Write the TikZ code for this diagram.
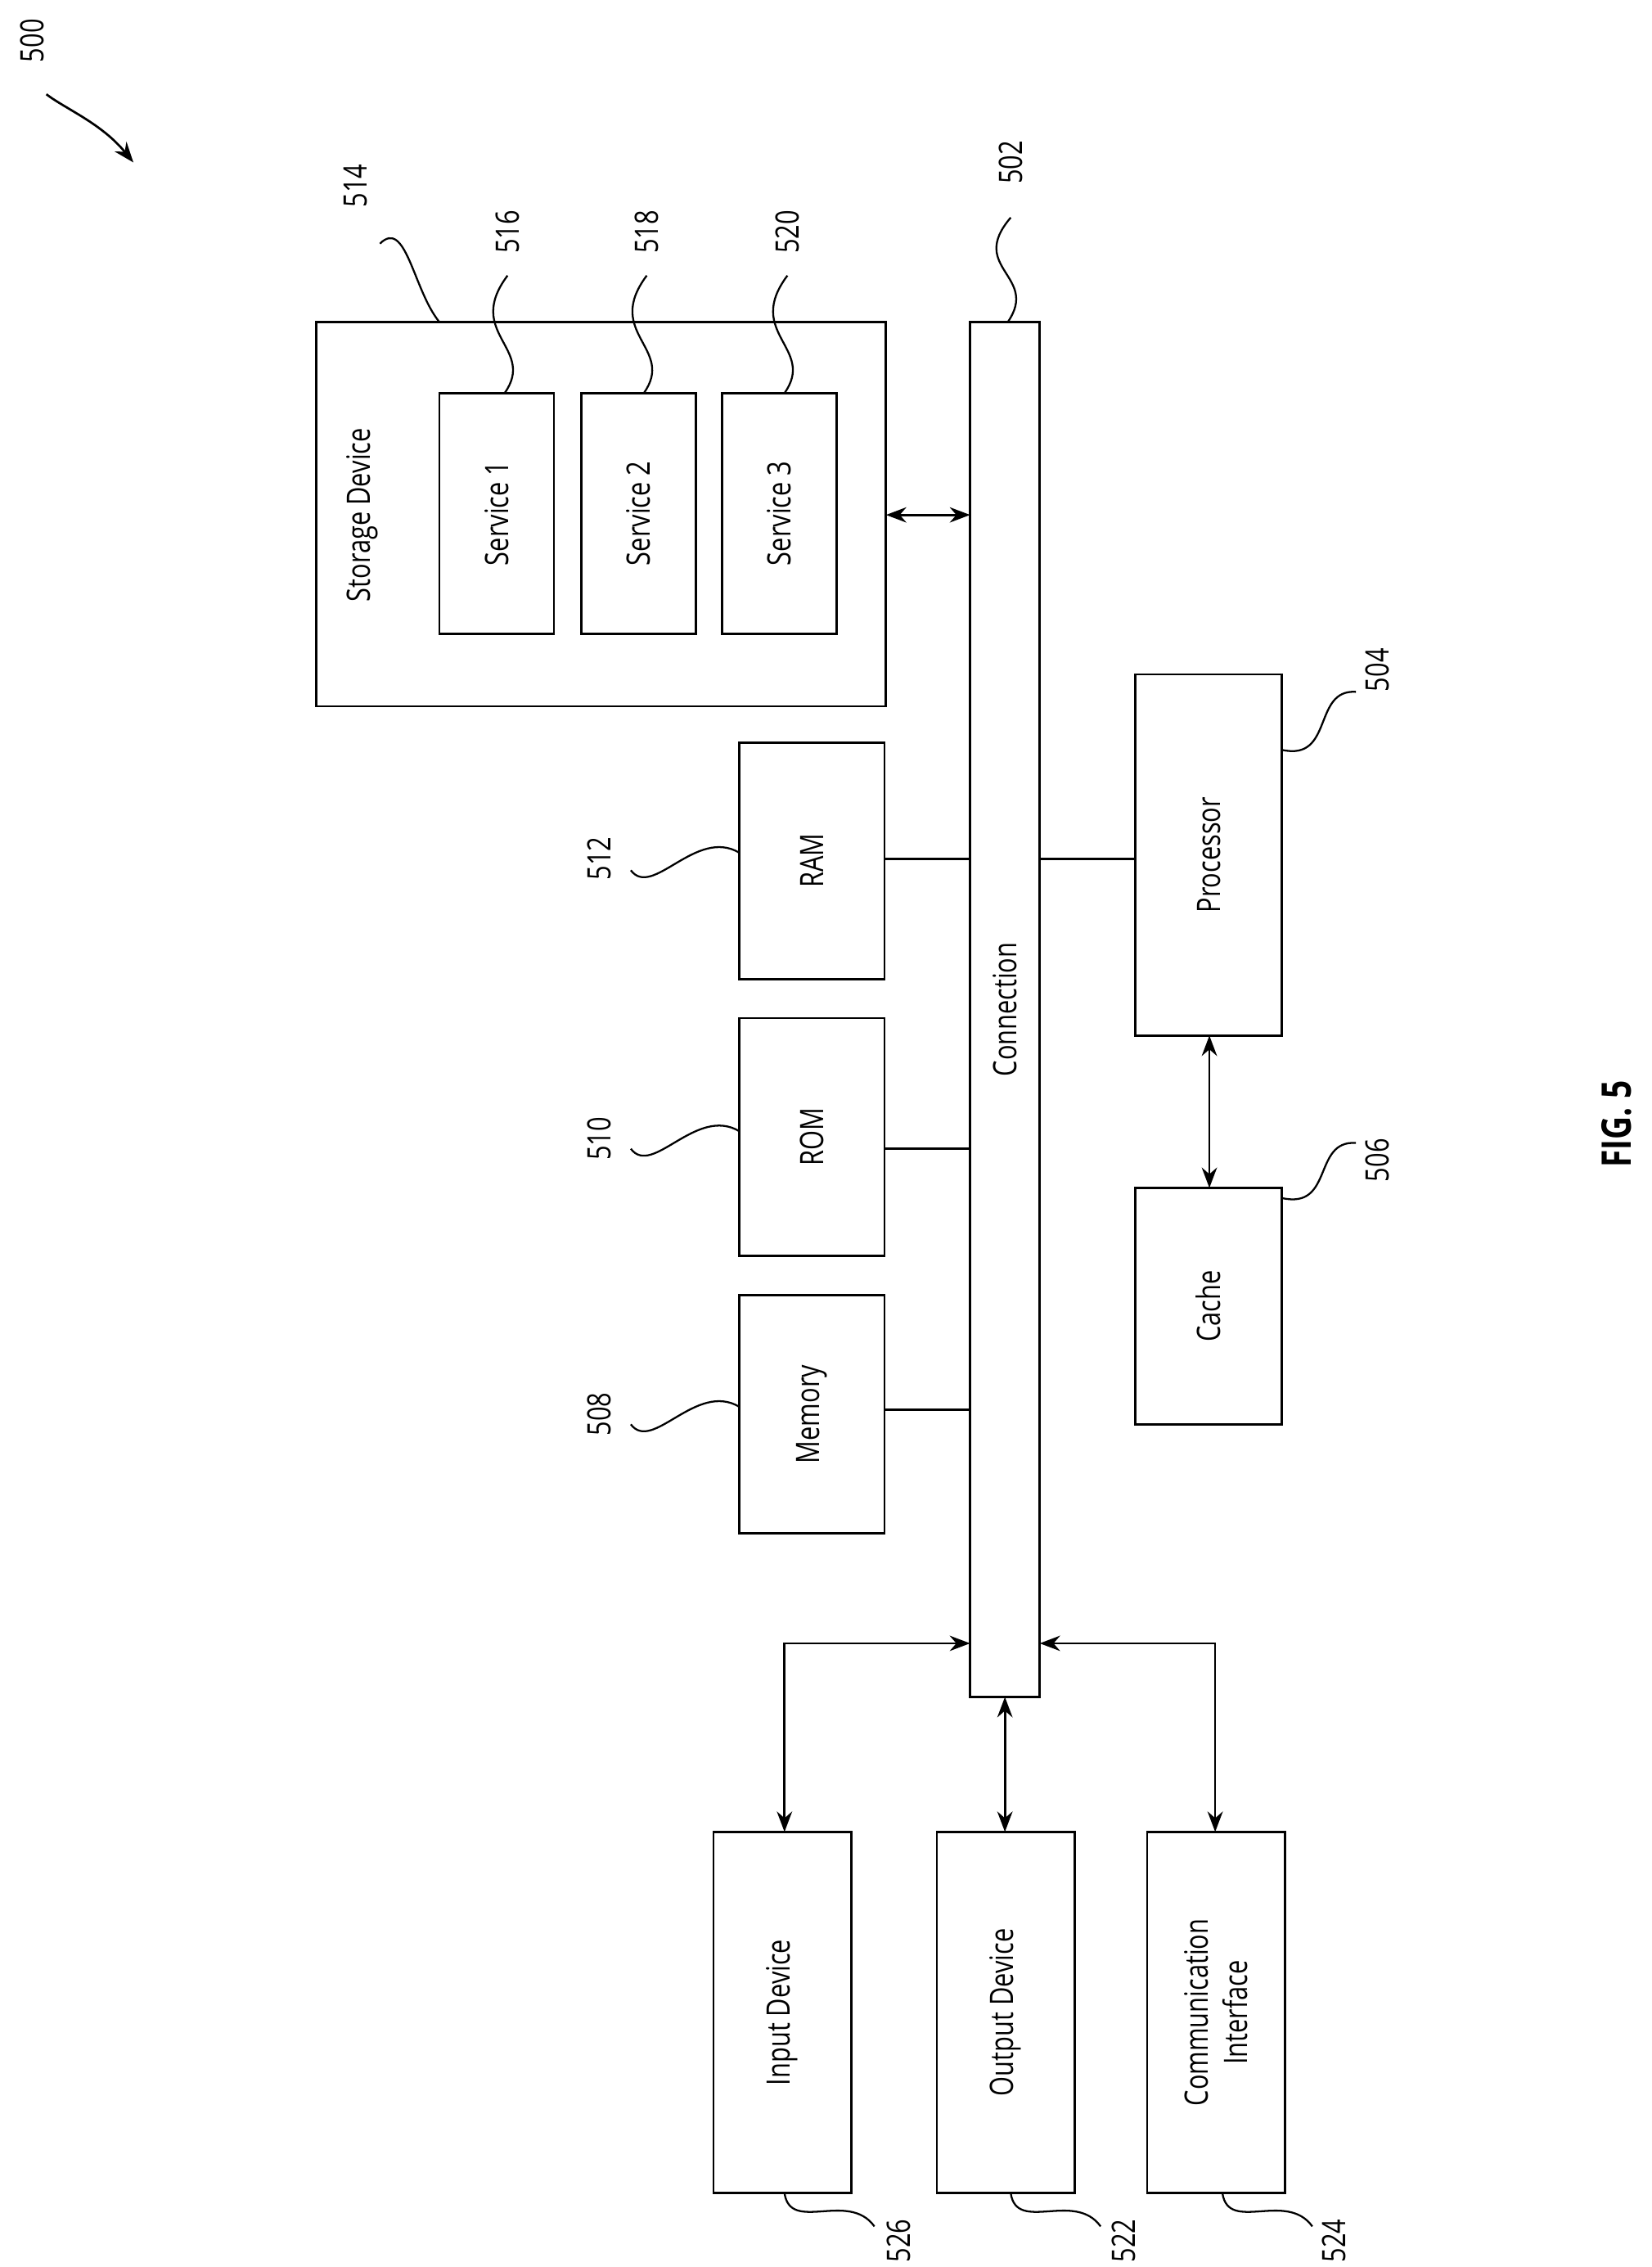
\documentclass[tikz,border=0pt]{standalone}
\usepackage{fontspec}
\setmainfont[FakeStretch=0.78]{Open Sans}
\usetikzlibrary{arrows.meta}
\begin{document}
\begin{tikzpicture}[x=0.03cm,y=-0.03cm,
 box/.style={draw,line width=1.3pt},
 lab/.style={rotate=90,font=\fontsize{19}{23}\selectfont,align=center},
 num/.style={rotate=90,font=\fontsize{19}{23}\selectfont},
 ln/.style={line width=1.3pt},
 dbl/.style={line width=1.3pt,{Stealth[length=12pt,width=9pt]}-{Stealth[length=12pt,width=9pt]}},
 one/.style={line width=1.3pt,-{Stealth[length=12pt,width=9pt]}},
 lead/.style={line width=1.1pt}]
\useasboundingbox (0,0) rectangle (1139,1563);
% storage
\draw[box] (218,222) rectangle (611,487);
\node[lab] (sd) at (250,355) {Storage Device};
\draw[box] (303,271) rectangle (382,437) node[midway,lab] (s1) {Service 1};
\draw[box] (401,271) rectangle (480,437) node[midway,lab] (s2) {Service 2};
\draw[box] (498,271) rectangle (577,437) node[midway,lab] (s3) {Service 3};
% bus
\draw[box] (669,222) rectangle (717,1170) node[midway,lab] (bus) {Connection};
% memories
\draw[box] (510,512) rectangle (610,675) node[midway,lab] (ram) {RAM};
\draw[box] (510,702) rectangle (610,866) node[midway,lab] (rom) {ROM};
\draw[box] (510,893) rectangle (610,1057) node[midway,lab] (mem) {Memory};
\draw[box] (783,465) rectangle (884,714) node[midway,lab] (proc) {Processor};
\draw[box] (783,819) rectangle (884,982) node[midway,lab] (cache) {Cache};
\draw[box] (492,1263) rectangle (587,1512) node[midway,lab] (in) {Input Device};
\draw[box] (646,1263) rectangle (741,1512) node[midway,lab] (out) {Output Device};
\draw[box] (791,1263) rectangle (886,1512) node[midway,lab] (com) {Communication\\Interface};
% connectors
\draw[ln] (610,592) -- (669,592);
\draw[ln] (610,792) -- (669,792);
\draw[ln] (610,972) -- (669,972);
\draw[ln] (717,592) -- (783,592);
\draw[dbl] (611,355) -- (669,355);
\draw[dbl] (834,714) -- (834,819);
\draw[dbl] (541,1263) -- (541,1133) -- (669,1133);
\draw[dbl] (693,1170) -- (693,1263);
\draw[dbl] (838,1263) -- (838,1133) -- (717,1133);
% numbers
\node[num] (n500) at (22,28) {500};
\draw[one] (32,65) .. controls (45,75) and (70,85) .. (92,112);
\node[num] (n514) at (245,128) {514};
\draw[lead] (262,168) .. controls (280,150) and (285,200) .. (303,222);
\node[num] (n516) at (350,160) {516};
\draw[lead] (350,190) .. controls (320,230) and (370,240) .. (348,271);
\node[num] (n518) at (446,160) {518};
\draw[lead] (446,190) .. controls (416,230) and (466,240) .. (444,271);
\node[num] (n520) at (543,160) {520};
\draw[lead] (543,190) .. controls (513,230) and (563,240) .. (541,271);
\node[num] (n502) at (697,112) {502};
\draw[lead] (697,150) .. controls (667,185) and (717,190) .. (695,222);
\node[num] (n504) at (950,462) {504};
\draw[lead] (884,517) .. controls (920,525) and (905,475) .. (935,477);
\node[num] (n506) at (950,800) {506};
\draw[lead] (884,826) .. controls (920,834) and (905,786) .. (935,788);
\node[num] (n512) at (413,592) {512};
\draw[lead] (435,600) .. controls (450,620) and (480,570) .. (510,588);
\node[num] (n510) at (413,785) {510};
\draw[lead] (435,792) .. controls (450,812) and (480,762) .. (510,780);
\node[num] (n508) at (413,975) {508};
\draw[lead] (435,982) .. controls (450,1002) and (480,952) .. (510,970);
\node[num] (n526) at (620,1545) {526};
\draw[lead] (541,1512) .. controls (545,1540) and (585,1510) .. (603,1535);
\node[num] (n522) at (775,1545) {522};
\draw[lead] (697,1512) .. controls (701,1540) and (741,1510) .. (759,1535);
\node[num] (n524) at (920,1545) {524};
\draw[lead] (843,1512) .. controls (847,1540) and (887,1510) .. (905,1535);
\node[rotate=90,font=\fontsize{24}{28}\selectfont\bfseries] (fig) at (1115,775) {FIG. 5};
\end{tikzpicture}
\end{document}
